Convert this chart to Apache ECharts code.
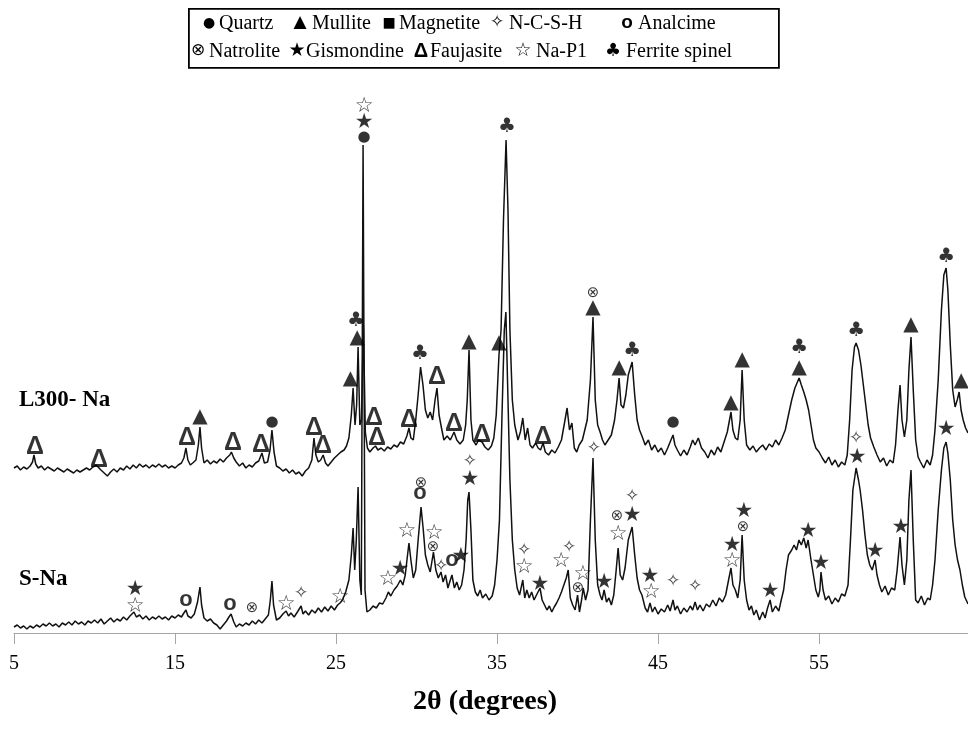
<!DOCTYPE html>
<html><head><meta charset="utf-8">
<script src="https://cdn.jsdelivr.net/npm/echarts@6/dist/echarts.min.js"></script>
<style>html,body{margin:0;padding:0;background:#fff}#c{width:968px;height:731px}</style>
</head><body><div id="c"></div>
<script>
// x tick labels (2θ, degrees)
const tickLabels = [5, 15, 25, 35, 45, 55];

// L300-Na pattern (offset upward), [2θ, intensity]
const l300 = [[5.0,165],[5.2,167],[5.4,163],[5.6,166],[5.8,164],[6.0,167],[6.15,171],[6.24,178],[6.35,169],[6.5,165],[6.7,167],[6.9,163],[7.1,166],[7.3,164],[7.5,162],[7.7,165],[7.9,163],[8.1,161],[8.3,164],[8.5,162],[8.7,160],[8.9,163],[9.1,161],[9.3,163],[9.5,165],[9.7,163],[9.9,166],[10.1,168],[10.2,167],[10.4,163],[10.6,160],[10.8,157],[11.0,161],[11.2,164],[11.4,161],[11.6,165],[11.8,163],[12.0,167],[12.2,164],[12.4,168],[12.6,165],[12.8,169],[13.0,166],[13.2,168],[13.4,165],[13.6,168],[13.8,166],[14.0,169],[14.2,166],[14.4,168],[14.6,165],[14.8,167],[15.0,165],[15.2,168],[15.4,170],[15.55,175],[15.68,185],[15.8,173],[15.95,168],[16.1,170],[16.3,173],[16.45,188],[16.55,206],[16.65,185],[16.8,170],[17.0,173],[17.2,169],[17.4,172],[17.6,170],[17.8,174],[18.0,171],[18.2,175],[18.4,178],[18.5,181],[18.65,175],[18.8,171],[19.0,167],[19.2,170],[19.4,165],[19.6,168],[19.8,166],[20.0,170],[20.2,172],[20.4,180],[20.55,170],[20.75,171],[20.9,183],[21.02,203],[21.15,181],[21.3,167],[21.5,165],[21.7,162],[21.9,164],[22.1,160],[22.3,163],[22.5,159],[22.7,161],[22.9,157],[23.1,162],[23.3,165],[23.5,173],[23.63,195],[23.75,178],[23.9,171],[24.05,173],[24.2,178],[24.35,170],[24.5,167],[24.7,171],[24.9,175],[25.1,178],[25.3,181],[25.5,183],[25.65,187],[25.8,195],[25.95,218],[26.06,245],[26.18,208],[26.28,228],[26.37,286],[26.48,208],[26.58,213],[26.7,308],[26.82,201],[26.95,185],[27.1,181],[27.3,185],[27.45,187],[27.6,183],[27.8,185],[28.0,182],[28.2,186],[28.4,184],[28.6,188],[28.8,186],[29.0,191],[29.2,189],[29.4,197],[29.53,205],[29.65,195],[29.8,193],[29.95,213],[30.1,238],[30.25,266],[30.4,248],[30.55,223],[30.7,215],[30.85,221],[31.0,213],[31.15,233],[31.27,245],[31.4,218],[31.55,205],[31.7,193],[31.9,197],[32.1,193],[32.33,201],[32.5,193],[32.7,189],[32.9,193],[33.05,208],[33.15,233],[33.26,283],[33.38,213],[33.5,193],[33.7,188],[33.85,193],[34.07,191],[34.25,186],[34.45,183],[34.65,187],[34.8,195],[34.95,218],[35.12,278],[35.25,303],[35.4,413],[35.56,493],[35.68,423],[35.8,303],[35.95,233],[36.1,208],[36.3,193],[36.45,201],[36.6,215],[36.75,193],[36.9,205],[37.05,188],[37.2,185],[37.4,190],[37.55,185],[37.7,183],[37.86,190],[38.0,181],[38.2,178],[38.4,183],[38.6,180],[38.8,186],[39.0,193],[39.2,211],[39.35,225],[39.5,203],[39.65,210],[39.8,185],[39.95,181],[40.1,188],[40.3,193],[40.45,203],[40.6,213],[40.8,253],[40.96,316],[41.1,233],[41.25,208],[41.4,201],[41.55,193],[41.7,188],[41.9,193],[42.1,198],[42.3,213],[42.45,233],[42.58,255],[42.7,228],[42.85,225],[43.0,238],[43.15,258],[43.39,271],[43.55,238],[43.7,213],[43.85,203],[44.0,197],[44.2,188],[44.4,193],[44.6,183],[44.8,188],[45.0,181],[45.2,185],[45.4,178],[45.6,185],[45.75,191],[45.93,198],[46.05,188],[46.2,183],[46.4,177],[46.6,183],[46.8,178],[47.0,186],[47.15,193],[47.3,188],[47.5,195],[47.7,185],[47.9,181],[48.1,175],[48.3,183],[48.5,178],[48.7,186],[48.9,181],[49.1,191],[49.3,201],[49.53,221],[49.65,203],[49.8,195],[49.95,193],[50.1,213],[50.22,263],[50.35,213],[50.5,188],[50.7,183],[50.9,187],[51.1,181],[51.3,185],[51.5,188],[51.7,183],[51.9,189],[52.1,186],[52.3,193],[52.5,188],[52.7,195],[52.9,203],[53.1,218],[53.3,233],[53.5,245],[53.76,255],[53.9,248],[54.05,241],[54.2,233],[54.35,223],[54.5,208],[54.65,193],[54.8,185],[55.0,181],[55.2,175],[55.4,170],[55.6,176],[55.8,168],[56.0,173],[56.2,166],[56.4,171],[56.6,168],[56.75,178],[56.9,213],[57.05,263],[57.2,286],[57.3,290],[57.45,283],[57.6,268],[57.75,248],[57.9,228],[58.05,208],[58.2,195],[58.4,186],[58.6,178],[58.8,171],[59.0,175],[59.2,167],[59.4,173],[59.6,170],[59.75,188],[59.9,223],[60.03,248],[60.15,213],[60.3,196],[60.45,213],[60.58,263],[60.71,296],[60.85,243],[61.0,193],[61.15,176],[61.3,171],[61.5,165],[61.7,173],[61.9,168],[62.05,178],[62.2,203],[62.4,253],[62.6,323],[62.75,358],[62.89,365],[63.0,343],[63.15,288],[63.3,243],[63.45,226],[63.58,233],[63.7,241],[63.82,223],[63.95,213],[64.1,205],[64.25,200]];

// S-Na pattern, [2θ, intensity]
const sna = [[5.0,6],[5.2,8],[5.4,5],[5.6,7],[5.8,4],[6.0,7],[6.2,5],[6.4,8],[6.6,6],[6.8,9],[7.0,7],[7.2,10],[7.4,7],[7.6,9],[7.8,6],[8.0,10],[8.2,8],[8.4,11],[8.6,8],[8.8,12],[9.0,9],[9.2,11],[9.4,8],[9.6,12],[9.8,10],[10.0,13],[10.2,10],[10.4,14],[10.6,9],[10.8,12],[11.0,15],[11.2,11],[11.4,14],[11.6,12],[11.8,16],[12.0,13],[12.2,17],[12.45,21],[12.6,16],[12.8,18],[13.0,14],[13.2,17],[13.4,13],[13.6,16],[13.8,14],[14.0,17],[14.2,14],[14.4,16],[14.6,13],[14.8,17],[15.0,15],[15.2,18],[15.4,16],[15.55,20],[15.68,23],[15.8,17],[16.0,15],[16.2,19],[16.4,31],[16.55,46],[16.65,28],[16.8,15],[17.0,12],[17.2,14],[17.4,10],[17.6,8],[17.8,4],[18.0,8],[18.2,12],[18.35,16],[18.48,19],[18.65,11],[18.8,6],[19.0,9],[19.2,7],[19.4,10],[19.6,8],[19.8,12],[20.0,9],[20.2,13],[20.4,10],[20.6,14],[20.8,18],[20.92,33],[21.02,52],[21.12,28],[21.3,13],[21.5,15],[21.7,19],[21.9,22],[22.05,17],[22.2,20],[22.4,16],[22.6,21],[22.83,27],[22.95,19],[23.1,22],[23.3,18],[23.5,23],[23.7,20],[23.9,25],[24.1,21],[24.3,26],[24.5,22],[24.7,27],[24.9,23],[25.1,28],[25.25,30],[25.4,33],[25.6,41],[25.8,53],[25.95,78],[26.06,105],[26.16,63],[26.26,93],[26.37,146],[26.48,53],[26.57,38],[26.68,488],[26.8,43],[26.92,21],[27.1,23],[27.3,27],[27.5,25],[27.7,30],[27.9,29],[28.1,35],[28.25,41],[28.4,37],[28.6,43],[28.8,47],[29.0,53],[29.15,48],[29.3,58],[29.42,75],[29.53,90],[29.65,73],[29.8,55],[29.95,63],[30.1,93],[30.28,126],[30.42,103],[30.55,78],[30.7,68],[30.85,61],[31.05,81],[31.2,63],[31.35,55],[31.52,61],[31.65,51],[31.8,58],[31.95,45],[32.1,53],[32.2,58],[32.35,45],[32.5,51],[32.65,43],[32.8,48],[32.95,63],[33.08,93],[33.18,133],[33.26,141],[33.38,103],[33.5,53],[33.65,41],[33.8,37],[33.95,43],[34.1,35],[34.3,39],[34.5,33],[34.7,37],[34.85,48],[35.0,73],[35.15,113],[35.3,213],[35.45,303],[35.55,321],[35.65,253],[35.8,153],[35.95,93],[36.1,63],[36.25,45],[36.4,38],[36.6,53],[36.72,35],[36.85,43],[37.0,35],[37.15,41],[37.3,33],[37.45,38],[37.67,45],[37.8,33],[37.95,28],[38.1,23],[38.25,27],[38.4,21],[38.55,26],[38.7,30],[38.85,35],[39.0,41],[39.15,48],[39.3,55],[39.42,63],[39.55,35],[39.7,28],[39.85,23],[40.0,38],[40.12,21],[40.25,33],[40.35,45],[40.5,33],[40.65,43],[40.8,113],[40.96,175],[41.1,93],[41.25,48],[41.4,38],[41.52,33],[41.65,43],[41.8,31],[41.95,35],[42.1,28],[42.25,38],[42.4,63],[42.52,85],[42.65,58],[42.8,53],[42.95,65],[43.15,93],[43.39,106],[43.55,78],[43.7,55],[43.85,43],[44.0,38],[44.2,25],[44.35,21],[44.5,30],[44.65,21],[44.8,26],[45.0,19],[45.2,24],[45.4,21],[45.6,28],[45.75,22],[45.93,33],[46.05,23],[46.2,27],[46.4,19],[46.6,25],[46.8,21],[47.0,27],[47.15,23],[47.3,31],[47.45,23],[47.6,28],[47.8,22],[48.0,29],[48.2,26],[48.4,33],[48.6,27],[48.8,35],[49.0,31],[49.2,38],[49.38,53],[49.53,65],[49.65,48],[49.8,43],[49.95,35],[50.1,53],[50.22,98],[50.35,53],[50.5,33],[50.65,23],[50.8,27],[50.95,18],[51.1,23],[51.3,13],[51.5,21],[51.65,15],[51.8,25],[51.96,33],[52.1,21],[52.3,27],[52.5,22],[52.65,33],[52.8,43],[52.95,63],[53.1,78],[53.3,83],[53.45,88],[53.6,83],[53.75,93],[53.9,88],[54.05,95],[54.2,85],[54.32,93],[54.5,73],[54.65,58],[54.8,43],[54.95,36],[55.05,43],[55.12,61],[55.25,43],[55.4,33],[55.6,37],[55.8,29],[56.0,35],[56.2,31],[56.4,39],[56.6,37],[56.8,48],[56.95,93],[57.1,143],[57.3,165],[57.45,153],[57.55,143],[57.7,123],[57.85,98],[58.0,78],[58.15,68],[58.3,63],[58.48,73],[58.6,58],[58.75,48],[58.9,41],[59.1,47],[59.3,38],[59.5,45],[59.7,43],[59.85,63],[60.03,96],[60.15,68],[60.3,48],[60.45,73],[60.58,133],[60.71,163],[60.85,93],[61.0,33],[61.15,30],[61.35,37],[61.55,28],[61.75,35],[61.9,33],[62.05,48],[62.2,73],[62.4,123],[62.6,163],[62.75,185],[62.89,191],[63.0,180],[63.15,153],[63.3,113],[63.45,88],[63.6,73],[63.75,63],[63.9,48],[64.05,36],[64.25,29]];

// Phase markers, [2θ, height]
const quartz = [[21.02,211],[26.74,496],[45.93,211]];
const mullite = [[16.55,216],[25.9,254],[26.32,295],[33.26,291],[35.12,290],[40.96,325],[42.58,265],[49.53,230],[50.22,273],[53.76,265],[60.71,308],[63.82,252]];
const ncsh = [[22.83,39],[31.52,66],[33.32,171],[36.68,82],[39.47,85],[41.02,184],[43.39,136],[45.93,51],[47.3,46],[57.3,194]];
const analcime = [[15.68,30],[18.42,26],[30.22,137],[32.2,70]];
const natrolite = [[19.78,25],[30.28,150],[31.02,86],[40.03,45],[40.96,340],[42.45,117],[50.28,106]];
const gismondine = [[12.52,43],[26.74,510],[28.98,63],[32.76,76],[33.32,153],[37.67,48],[41.65,50],[43.39,117],[44.5,56],[49.6,87],[50.34,121],[51.96,41],[54.32,101],[55.12,69],[57.36,175],[58.48,81],[60.09,105],[62.89,203]];
const faujasite = [[6.3,186],[10.28,173],[15.74,195],[18.6,190],[20.34,188],[23.63,205],[24.19,187],[27.36,215],[27.55,195],[29.53,213],[31.27,256],[32.33,209],[34.07,198],[37.86,196]];
const naP1 = [[12.52,26],[21.9,28],[25.25,35],[26.74,526],[28.23,53],[29.4,101],[31.09,99],[36.68,65],[38.98,71],[40.34,58],[42.52,98],[44.57,40],[49.6,71]];
const spinel = [[26.24,312],[30.22,279],[35.62,506],[43.39,282],[53.76,285],[57.3,302],[62.89,376]];

// Legend entries: [glyph, name, glyph font, glyph size, glyph weight]
const legendRow1 = [['●','Quartz','DejaVu Sans',14,'normal'],['▲','Mullite','DejaVu Sans',17,'normal'],['■','Magnetite','DejaVu Sans',14,'normal'],['✧','N-C-S-H','DejaVu Sans',17,'normal'],['o','Analcime','Liberation Sans',19,'bold']];
const legendRow2 = [['⊗','Natrolite','DejaVu Sans',17,'normal'],['★','Gismondine','DejaVu Sans',19,'normal'],['Δ','Faujasite','Liberation Sans',20,'bold'],['☆','Na-P1','DejaVu Sans',19,'normal'],['♣','Ferrite spinel','DejaVu Sans',18,'normal']];
// layout of the legend box (glyph centre x, name left x)
const legendX1 = [[209,219],[300,312],[389,399],[497,509],[627,638]];
const legendX2 = [[198,209],[297,306],[421,430],[523,536],[613,626]];

const phaseStyles = [
  {data: quartz, glyph: '●', font: 'DejaVu Sans', size: 15, weight: 'normal', offset: [0, 0]},
  {data: mullite, glyph: '▲', font: 'DejaVu Sans', size: 20, weight: 'normal', offset: [0, 0]},
  {data: ncsh, glyph: '✧', font: 'DejaVu Sans', size: 17, weight: 'normal', offset: [0, 0]},
  {data: analcime, glyph: 'o', font: 'Liberation Sans', size: 22, weight: 'bold', offset: [0, -3]},
  {data: natrolite, glyph: '⊗', font: 'DejaVu Sans', size: 15, weight: 'normal', offset: [0, 0]},
  {data: gismondine, glyph: '★', font: 'DejaVu Sans', size: 21, weight: 'normal', offset: [0, 0]},
  {data: faujasite, glyph: 'Δ', font: 'Liberation Sans', size: 25, weight: 'bold', offset: [0, 0]},
  {data: naP1, glyph: '☆', font: 'DejaVu Sans', size: 21, weight: 'normal', offset: [0, 0]},
  {data: spinel, glyph: '♣', font: 'DejaVu Sans', size: 20, weight: 'normal', offset: [0, 0]}
];

const chart = echarts.init(document.getElementById('c'), null, {renderer: 'canvas'});

const lineSeries = [l300, sna].map(d => ({
  type: 'line', data: d, showSymbol: false, silent: true, z: 2,
  lineStyle: {color: '#111', width: 1.5}
}));

const markerSeries = phaseStyles.map(p => ({
  type: 'scatter', data: p.data, symbolSize: 1, z: 5, silent: true,
  itemStyle: {color: 'rgba(0,0,0,0)'},
  label: {show: true, position: 'inside', formatter: p.glyph, color: '#000',
    fontFamily: p.font, fontSize: p.size, fontWeight: p.weight, offset: p.offset}
}));

const graphic = [
  {type: 'rect', left: 188, top: 8, shape: {width: 590, height: 59},
    style: {fill: '#fff', stroke: '#000', lineWidth: 1.8}, z: 10}
];
function addLegendRow(row, xs, cy) {
  row.forEach((it, i) => {
    graphic.push({type: 'text', x: xs[i][0], y: cy, z: 11,
      style: {text: it[0], fontFamily: it[2], fontSize: it[3], fontWeight: it[4], fill: '#000', align: 'center', verticalAlign: 'middle'}});
    graphic.push({type: 'text', x: xs[i][1], y: cy + 1, z: 11,
      style: {text: it[1], fontFamily: 'Liberation Serif', fontSize: 20, fill: '#000', align: 'left', verticalAlign: 'middle'}});
  });
}
addLegendRow(legendRow1, legendX1, 23);
addLegendRow(legendRow2, legendX2, 51);
graphic.push({type: 'text', x: 19, y: 400, z: 11,
  style: {text: 'L300- Na', fontFamily: 'Liberation Serif', fontWeight: 'bold', fontSize: 23, fill: '#000', verticalAlign: 'middle'}});
graphic.push({type: 'text', x: 19, y: 579, z: 11,
  style: {text: 'S-Na', fontFamily: 'Liberation Serif', fontWeight: 'bold', fontSize: 23, fill: '#000', verticalAlign: 'middle'}});

chart.setOption({
  animation: false,
  grid: {left: 14, right: 0, top: 90, bottom: 98},
  xAxis: {
    type: 'value', min: 5, max: 64.25,
    axisLine: {lineStyle: {color: '#a6a6a6', width: 1}},
    axisTick: {customValues: tickLabels, length: 11, lineStyle: {color: '#a6a6a6'}},
    axisLabel: {customValues: tickLabels, margin: 21, fontFamily: 'Liberation Serif', fontSize: 20, color: '#000'},
    splitLine: {show: false},
    name: '2θ (degrees)', nameLocation: 'middle', nameGap: 55,
    nameTextStyle: {fontFamily: 'Liberation Serif', fontWeight: 'bold', fontSize: 28, color: '#000', padding: [0, 12, 0, 0]}
  },
  yAxis: {type: 'value', min: 0, max: 543, show: false},
  graphic: graphic,
  series: lineSeries.concat(markerSeries)
});
</script>
</body></html>
